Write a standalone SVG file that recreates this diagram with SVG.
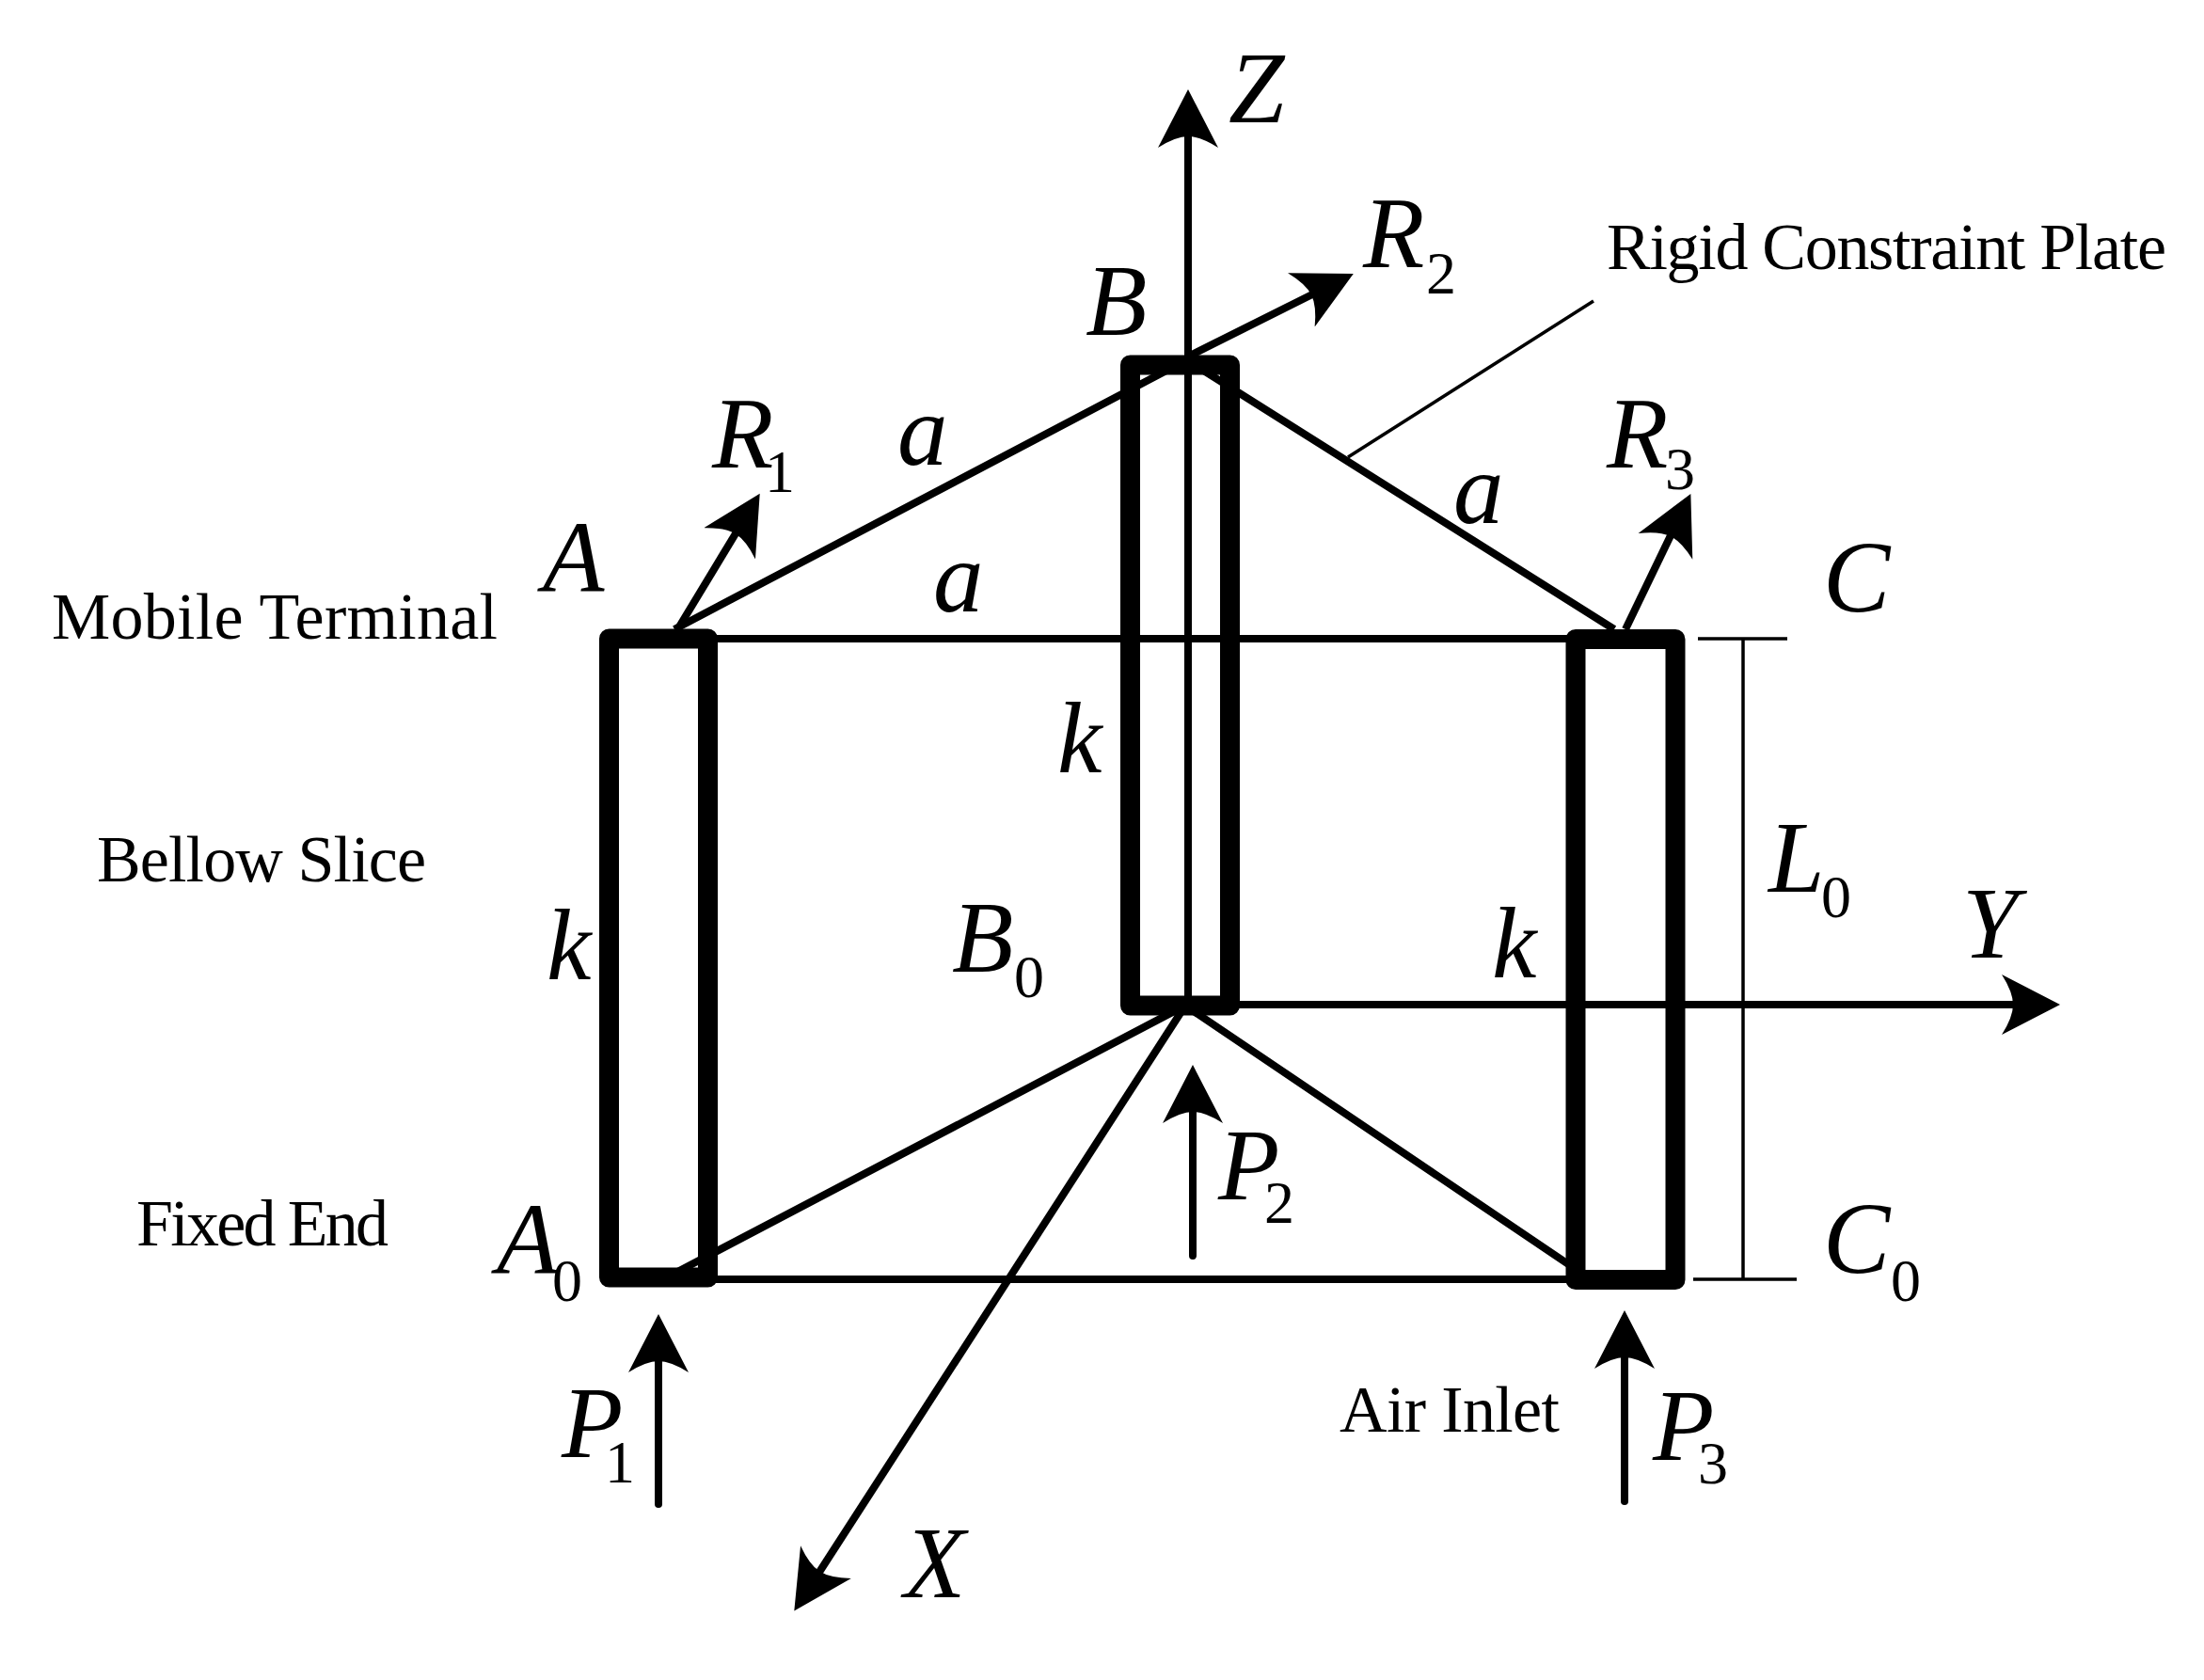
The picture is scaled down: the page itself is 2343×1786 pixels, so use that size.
<svg xmlns="http://www.w3.org/2000/svg" width="2343" height="1786" viewBox="0 0 2343 1786">
<style>
text{font-family:"Liberation Serif","Times New Roman",serif;fill:#000}
.v{font-size:107px;font-style:italic}
.s{font-size:64px;font-style:normal}
.t{font-size:70px}
.bar{fill:none;stroke:#000;stroke-width:21;stroke-linejoin:round}
.l{fill:none;stroke:#000;stroke-width:8}
.a{fill:none;stroke:#000;stroke-width:8;marker-end:url(#h)}
.d{fill:none;stroke:#000;stroke-width:3.5}
</style>
<defs>
<marker id="h" markerUnits="userSpaceOnUse" viewBox="0 0 66 66" markerWidth="66" markerHeight="66" refX="22" refY="33" orient="auto">
<path d="M0,1 Q12,20 12,33 Q12,46 0,65 L62,33Z" fill="#000"/>
</marker>
</defs>
<rect width="2343" height="1786" fill="#fff"/>
<g id="connectors">
<path class="l" d="M717,669L1240,394M1270,388L1716,669M755,679H1675M755,1360H1675M705,1360L1260,1069L1688,1358"/>
<path class="a" d="M1263,1069V135"/>
<path class="a" d="M1307,1068H2150"/>
<path class="a" d="M1260,1069L866,1679"/>
<path class="a" d="M1263,379L1403,309"/>
<path class="a" d="M721,668L787,559"/>
<path class="a" d="M1728,669L1780,561"/>
<path class="a" d="M1268,1335V1172" stroke-linecap="round"/>
<path class="a" d="M700,1599V1437" stroke-linecap="round"/>
<path class="a" d="M1727,1596V1433" stroke-linecap="round"/>
<path class="d" d="M1433,486L1694,320M1853,679V1360M1805,679H1900M1800,1360H1910"/>
</g>
<g id="bellow-a"><rect class="bar" x="647.500" y="679" width="105" height="679"/></g>
<g id="bellow-b"><rect class="bar" x="1201.500" y="388" width="106" height="681"/></g>
<g id="bellow-c"><rect class="bar" x="1675" y="679.500" width="106" height="681"/></g>
<g id="labels">
<text class="v" x="1306" y="130">Z</text>
<text class="v" x="1449" y="284">R<tspan class="s" x="1516" y="312">2</tspan></text>
<text class="v" x="1154" y="356">B</text>
<text class="t" x="1708" y="286" textLength="595">Rigid Constraint Plate</text>
<text class="v" x="757" y="497">R<tspan class="s" x="813" y="523">1</tspan></text>
<text class="v" x="954" y="494">a</text>
<text class="v" x="1545" y="556">a</text>
<text class="v" x="1708" y="497">R<tspan class="s" x="1770" y="520">3</tspan></text>
<text class="v" x="577" y="629">A</text>
<text class="v" x="1938" y="650">C</text>
<text class="v" x="992" y="650">a</text>
<text class="t" x="55" y="679" textLength="474">Mobile Terminal</text>
<text class="v" x="1124" y="821">k</text>
<text class="t" x="103" y="937" textLength="350">Bellow Slice</text>
<text class="v" x="581" y="1041">k</text>
<text class="v" x="1012" y="1033">B<tspan class="s" x="1078" y="1060">0</tspan></text>
<text class="v" x="1586" y="1039">k</text>
<text class="v" x="1880" y="948">L<tspan class="s" x="1936" y="975">0</tspan></text>
<text class="v" x="2086" y="1018">Y</text>
<text class="v" x="1295" y="1275">P<tspan class="s" x="1344" y="1300">2</tspan></text>
<text class="t" x="145" y="1324" textLength="268">Fixed End</text>
<text class="v" x="528" y="1354">A<tspan class="s" x="587" y="1383">0</tspan></text>
<text class="v" x="1938" y="1353">C<tspan class="s" x="2010" y="1383">0</tspan></text>
<text class="t" x="1424" y="1522" textLength="234">Air Inlet</text>
<text class="v" x="1757" y="1552">P<tspan class="s" x="1805" y="1577">3</tspan></text>
<text class="v" x="597" y="1549">P<tspan class="s" x="643" y="1576">1</tspan></text>
<text class="v" x="961" y="1698">X</text>
</g>
</svg>
